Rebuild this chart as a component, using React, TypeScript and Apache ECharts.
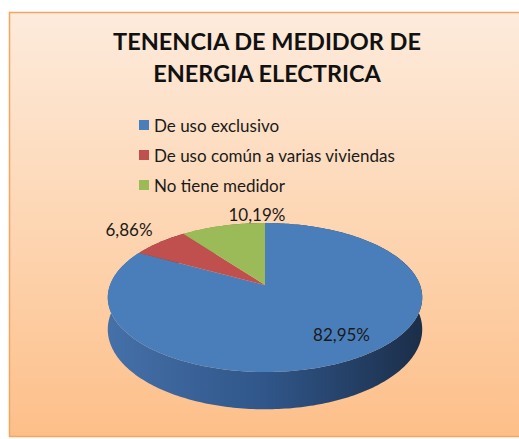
import React, { useEffect, useRef } from "react";
import * as echarts from "echarts";

const TITLE_LINES = ["TENENCIA DE MEDIDOR DE", "ENERGIA ELECTRICA"];
const CATEGORIES = ["De uso exclusivo", "De uso común a varias viviendas", "No tiene medidor"];
const VALUES = [82.95, 6.86, 10.19];
const VALUE_LABELS = ["82,95%", "6,86%", "10,19%"];

const TOP_COLORS = ["#4a7ebb", "#c0504d", "#9bbb59"];
const SIDE_COLORS = [
  ["#4570a8", "#30568a", "#1b2e49"],
  ["#a8423f", "#8f3532", "#6a2624"],
  ["#87a64a", "#718d3c", "#55692d"],
];

// projection of a tilted disc seen in perspective
const CX = 265;
const CY = 285;
const RX = 155;
const RY = 72.4;
const K = 0.168;
const DEPTH = 31;
// label placement: [radius factor, dx, dy, align, verticalAlign]
const LABEL_PLACE: [number, number, number, string, string][] = [
  [0.75, 10, -3, "center", "middle"],
  [1.0, -7, -4, "right", "bottom"],
  [1.0, 34, -3, "center", "bottom"],
];

function project(theta: number, r: number, dz: number): [number, number] {
  const X = r * Math.sin(theta);
  const Z = r * Math.cos(theta);
  const d = 1 + K * Z;
  return [CX + (RX * X) / d, CY - (RY * Z) / d + dz / d];
}

function angles(i: number): [number, number] {
  const total = VALUES.reduce((a, b) => a + b, 0);
  let before = 0;
  for (let j = 0; j < i; j++) before += VALUES[j];
  const a0 = (before / total) * Math.PI * 2;
  const a1 = ((before + VALUES[i]) / total) * Math.PI * 2;
  return [a0, a1];
}

function rim(a0: number, a1: number, dz: number): [number, number][] {
  const pts: [number, number][] = [];
  const n = Math.max(2, Math.ceil(((a1 - a0) / (Math.PI * 2)) * 360));
  for (let s = 0; s <= n; s++) {
    pts.push(project(a0 + ((a1 - a0) * s) / n, 1, dz));
  }
  return pts;
}

export default function App() {
  const ref = useRef<HTMLDivElement>(null);
  useEffect(() => {
    if (!ref.current) return;
    const chart = echarts.init(ref.current, undefined, { renderer: "svg" });

    const sideSeries = {
      type: "custom",
      name: "side",
      coordinateSystem: "none",
      z: 1,
      silent: true,
      data: VALUES.map((v) => [v]),
      renderItem: (params: any) => {
        const i = params.dataIndex;
        const [a0, a1] = angles(i);
        const top = rim(a0, a1, 0);
        const bottom = rim(a0, a1, DEPTH).reverse();
        return {
          type: "polygon",
          shape: { points: top.concat(bottom) },
          style: {
            fill: {
              type: "linear",
              x: 0,
              y: 0,
              x2: 1,
              y2: 0,
              colorStops: [
                { offset: 0, color: SIDE_COLORS[i][0] },
                { offset: 0.5, color: SIDE_COLORS[i][1] },
                { offset: 1, color: SIDE_COLORS[i][2] },
              ],
            },
          },
        };
      },
    };

    const topSeries = CATEGORIES.map((name, i) => ({
      type: "custom",
      name,
      coordinateSystem: "none",
      z: 3,
      itemStyle: { color: TOP_COLORS[i] },
      data: [[VALUES[i]]],
      renderItem: () => {
        const [a0, a1] = angles(i);
        const pts: [number, number][] = [[CX, CY] as [number, number]].concat(rim(a0, a1, 0));
        const mid = (a0 + a1) / 2;
        const [rf, dx, dy, align, valign] = LABEL_PLACE[i];
        const [lx, ly] = project(mid, rf, 0);
        return {
          type: "group",
          children: [
            {
              type: "polygon",
              shape: { points: pts },
              style: { fill: TOP_COLORS[i] },
            },
            {
              type: "text",
              z2: 10,
              style: {
                text: VALUE_LABELS[i],
                x: lx + dx,
                y: ly + dy,
                fill: "#1a1a1a",
                fontSize: 17,
                fontFamily: "Lato",
                align,
                verticalAlign: valign,
              },
            },
          ],
        };
      },
    }));

    chart.setOption({
      animation: false,
      title: {
        text: TITLE_LINES.join("\n"),
        left: 267,
        top: 25,
        padding: 0,
        textAlign: "center",
        textStyle: {
          fontFamily: "Lato",
          fontWeight: "bold",
          fontSize: 23.5,
          lineHeight: 32,
          color: "#111111",
        },
      },
      legend: {
        data: CATEGORIES,
        orient: "vertical",
        left: 139,
        top: 115,
        padding: 0,
        itemWidth: 10,
        itemHeight: 10,
        itemGap: 10,
        icon: "rect",
        selectedMode: false,
        textStyle: { fontFamily: "Lato", fontSize: 17, lineHeight: 20, color: "#1a1a1a" },
      },
      graphic: [
        {
          type: "rect",
          z: -10,
          silent: true,
          shape: { x: 9.5, y: 12.5, width: 512, height: 424 },
          style: {
            fill: {
              type: "linear",
              x: 0,
              y: 0,
              x2: 0,
              y2: 1,
              colorStops: [
                { offset: 0, color: "#fdebdc" },
                { offset: 0.5, color: "#fdd6b3" },
                { offset: 1, color: "#fdbf89" },
              ],
            },
            stroke: "#f5a55e",
            lineWidth: 1.5,
          },
        },
      ],
      series: [sideSeries, ...topSeries],
    });
    return () => chart.dispose();
  }, []);
  return (
    <div
      ref={ref}
      style={{ position: "fixed", left: 0, top: 0, width: 519, height: 439, background: "#ffffff" }}
    />
  );
}
